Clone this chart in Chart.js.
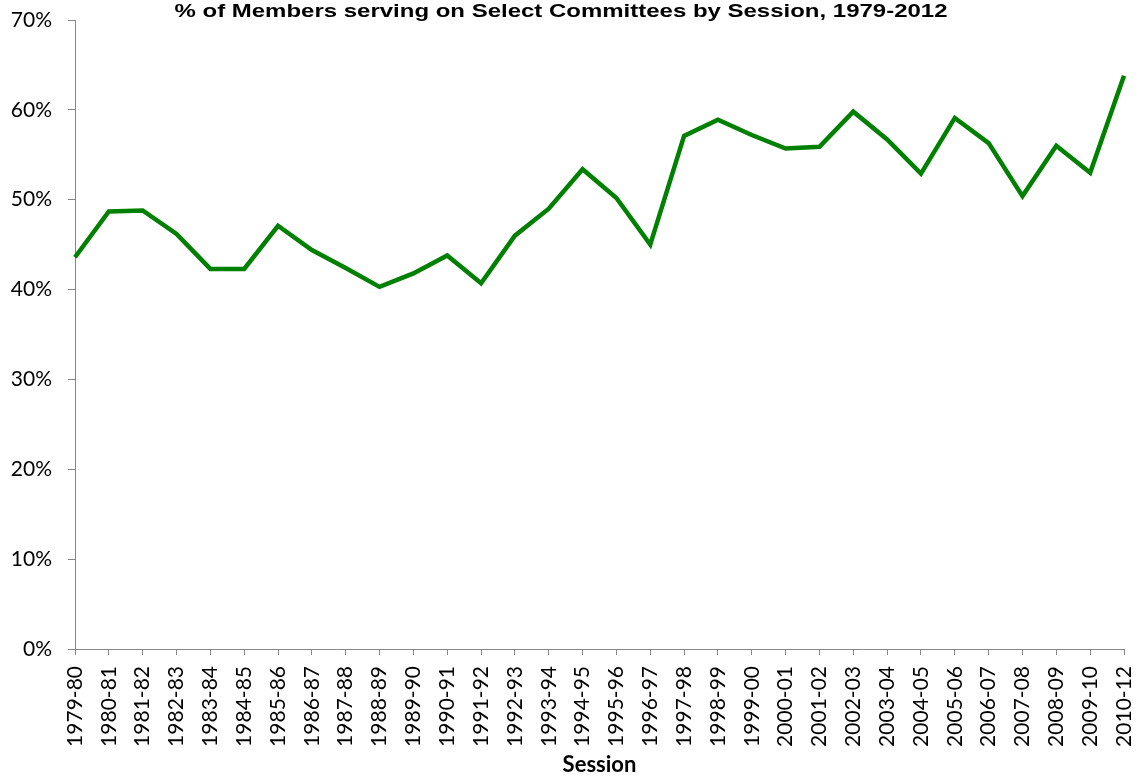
<!DOCTYPE html>
<html>
<head>
<meta charset="utf-8">
<script src="https://cdn.jsdelivr.net/npm/chart.js@4"></script>
<style>
  html, body { margin: 0; padding: 0; background: #fff; }
  #wrap { width: 1142px; height: 776px; }
</style>
</head>
<body>
<div id="wrap"><canvas id="c" width="1142" height="776"></canvas></div>
<script>
const chartTitle = '% of Members serving on Select Committees by Session, 1979-2012';
const xTitle = 'Session';
const categories = ['1979-80','1980-81','1981-82','1982-83','1983-84','1984-85','1985-86','1986-87','1987-88','1988-89','1989-90','1990-91','1991-92','1992-93','1993-94','1994-95','1995-96','1996-97','1997-98','1998-99','1999-00','2000-01','2001-02','2002-03','2003-04','2004-05','2005-06','2006-07','2007-08','2008-09','2009-10','2010-12'];
const shareServing = [43.6, 48.7, 48.8, 46.2, 42.3, 42.3, 47.1, 44.4, 42.4, 40.3, 41.8, 43.8, 40.7, 46.0, 49.0, 53.4, 50.2, 45.0, 57.1, 58.9, 57.2, 55.7, 55.9, 59.8, 56.7, 52.9, 59.1, 56.3, 50.4, 56.0, 53.0, 63.8];
const yMin = 0, yMax = 70, yStep = 10;

const axisGrey = '#868686';
const tickFont = { family: 'Lato, "Open Sans", sans-serif', size: 21 };

const titlePlugin = {
  id: 'topTitle',
  afterDraw(chart) {
    const ctx = chart.ctx;
    ctx.save();
    ctx.font = 'bold 19px "Liberation Sans", Arial, sans-serif';
    ctx.fillStyle = '#000';
    ctx.textAlign = 'center';
    ctx.textBaseline = 'alphabetic';
    const w = ctx.measureText(chartTitle).width;
    const target = 773;
    ctx.translate(561, 17);
    ctx.scale(target / w, 1);
    ctx.fillText(chartTitle, 0, 0);
    ctx.restore();
  }
};

new Chart(document.getElementById('c'), {
  type: 'line',
  data: {
    labels: categories,
    datasets: [{
      data: shareServing,
      borderColor: '#008000',
      borderWidth: 4.5,
      pointRadius: 0,
      tension: 0,
      fill: false
    }]
  },
  options: {
    responsive: false,
    animation: false,
    layout: { padding: { left: 0, right: 18, top: 20, bottom: 0 } },
    plugins: { legend: { display: false }, tooltip: { enabled: false }, title: { display: false } },
    scales: {
      x: {
        offset: false,
        grid: { display: true, drawOnChartArea: false, drawTicks: true, tickLength: 6, color: axisGrey },
        border: { display: true, color: axisGrey, width: 1 },
        ticks: { autoSkip: false, minRotation: 90, maxRotation: 90, font: tickFont, color: '#000', padding: 11 },
        title: { display: true, text: xTitle, color: '#000', font: { family: 'Lato, "Open Sans", sans-serif', size: 22, weight: 'bold', lineHeight: 1.0 }, padding: { top: 0, bottom: 0 } },
        afterFit(s) { s.height = 127; s.paddingLeft = 0; s.paddingRight = 0; }
      },
      y: {
        min: yMin, max: yMax,
        grid: { display: true, drawOnChartArea: false, drawTicks: true, tickLength: 7, color: axisGrey },
        border: { display: true, color: axisGrey, width: 1 },
        ticks: { stepSize: yStep, callback: v => v + '%', font: tickFont, color: '#000', padding: 16 },
        afterFit(s) { s.width = 75; s.paddingTop = 0; s.paddingBottom = 0; }
      }
    }
  },
  plugins: [titlePlugin]
});
</script>
</body>
</html>
